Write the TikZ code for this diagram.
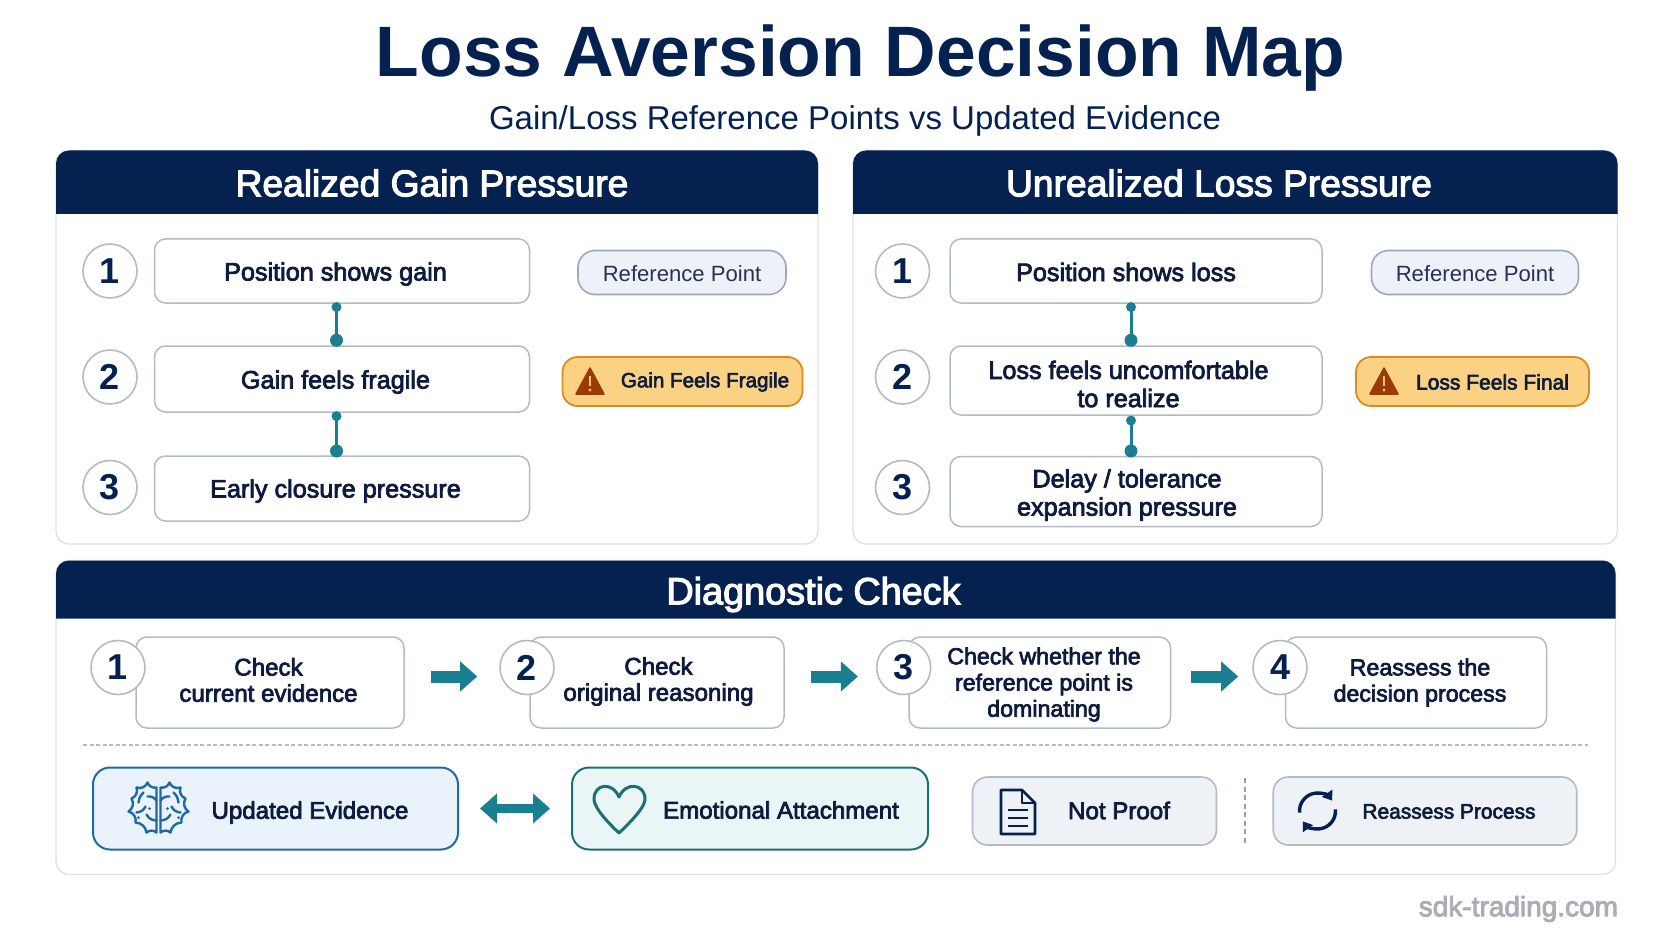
\documentclass[tikz,border=0pt]{standalone}
\usepackage{fontspec}
\usetikzlibrary{arrows.meta,calc}
\setmainfont{Liberation Sans}
\newfontfamily\semi[FakeBold=3]{Liberation Sans}
\definecolor{navy}{HTML}{04214F}
\definecolor{ink}{HTML}{0D1B3E}
\definecolor{teal1}{HTML}{1A7F90}
\definecolor{bord}{HTML}{B4BAC6}
\definecolor{panelb}{HTML}{DDE1E8}
\definecolor{pillf}{HTML}{EEF1F7}
\definecolor{pillb}{HTML}{9CA8BE}
\definecolor{warnf}{HTML}{FBD283}
\definecolor{warnb}{HTML}{DB8B20}
\definecolor{warnt}{HTML}{9A3A06}
\definecolor{warny}{HTML}{F7C35F}
\definecolor{evf}{HTML}{EAF2FB}
\definecolor{evb}{HTML}{1F6AA0}
\definecolor{emf}{HTML}{E9F6F5}
\definecolor{emb}{HTML}{1C6F75}
\definecolor{npf}{HTML}{EEF1F6}
\definecolor{wm}{HTML}{A9ADB5}
\newcommand{\fs}[1]{\fontsize{#1}{#1}\selectfont}
\tikzset{
  panel/.style={draw=panelb,fill=white,line width=1.4pt,rounded corners=13pt},
  header/.style={fill=navy},
  headtext/.style={text=white,inner sep=0pt,font=\semi\fs{37.2}},
  stepbox/.style={draw=bord,fill=white,line width=1.5pt,rounded corners=11pt,inner sep=0pt,minimum width=#1},
  numc/.style={circle,draw=bord,fill=white,line width=1.6pt,minimum size=54pt,inner sep=0pt,text=navy,font=\bfseries\fs{36}},
  txt/.style={text=ink,inner sep=0pt,align=center,font=\semi\fs{25.2}},
  txtd/.style={text=ink,inner sep=0pt,align=center,font=\semi\fs{24.1}},
  txte/.style={text=ink,inner sep=0pt,align=center,font=\semi\fs{23.2}},
  reftxt/.style={text=ink!90!white,inner sep=0pt,font=\fs{22.1}},
  refpill/.style={draw=pillb,fill=pillf,line width=1.6pt,rounded corners=17pt,inner sep=0pt,minimum height=44pt},
  warnpill/.style={draw=warnb,fill=warnf,line width=1.8pt,rounded corners=15pt,inner sep=0pt,minimum height=49pt},
  warntri/.style={fill=warnt,draw=warnt,line width=1.5pt,line join=round},
  conn/.style={draw=teal1,line width=3pt},
  dots/.style={circle,fill=teal1,inner sep=0pt,minimum size=#1},
  blk/.style={draw=teal1,line width=12pt,-{Triangle[length=17pt,width=29pt]}},
  blk2/.style={draw=teal1,line width=9pt,{Triangle[length=17pt,width=29pt]}-{Triangle[length=17pt,width=29pt]}},
  evbox/.style={draw=evb,fill=evf,line width=2pt,rounded corners=17pt,inner sep=0pt,minimum height=82pt},
  embox/.style={draw=emb,fill=emf,line width=2pt,rounded corners=17pt,inner sep=0pt,minimum height=82pt},
  npbox/.style={draw=bord,fill=npf,line width=1.6pt,rounded corners=15pt,inner sep=0pt,minimum height=68pt},
  icon/.style={draw=navy,line width=2.6pt,line join=round},
  brain/.style={draw=evb,line width=2.4pt,line cap=round,line join=round},
}
\begin{document}
\begin{tikzpicture}[x=1pt,y=-1pt]
\useasboundingbox (0,0) rectangle (1672,941);
\fill[white] (0,0) rectangle (1672,941);
\node[text=navy,inner sep=0pt,font=\bfseries\fs{71.4}] (title) at (860.5,58.5) {Loss Aversion Decision Map};
\node[text=navy,inner sep=0pt,font=\fs{33}] (subtitle) at (855,121) {Gain/Loss Reference Points vs Updated Evidence};

% left panel
\draw[panel] (56,150.5) rectangle (818,544);
\fill[header] (56,214) [rounded corners=13pt] -- (56,150.5) -- (818,150.5) [sharp corners] -- (818,214) -- cycle;
\node[headtext] (hA) at (432,183) {Realized Gain Pressure};
\foreach \n/\y in {1/271,2/377,3/487.5}{
  \node[numc] (ca\n) at (110,\y) {\n};
}
\node[stepbox=375pt,minimum height=64pt] (a1) at (342,271) {};
\node[stepbox=375pt,minimum height=66pt] (a2) at (342,379) {};
\node[stepbox=375pt,minimum height=65pt] (a3) at (342,488.5) {};
\node[txt] (ta1) at (335.5,274) {Position shows gain};
\node[txt] (ta2) at (335.5,382) {Gain feels fragile};
\node[txt] (ta3) at (335.5,491) {Early closure pressure};
\coordinate (ax) at (336.5,0);
\draw[conn] (a1.south -| ax) -- node[dots=10pt,pos=0.08]{} node[dots=13pt,pos=0.88]{} (a2.north -| ax);
\draw[conn] (a2.south -| ax) -- node[dots=10pt,pos=0.08]{} node[dots=13pt,pos=0.9]{} (a3.north -| ax);
\node[refpill,minimum width=208pt] (ra) at (682,272.5) {};
\node[reftxt] (tra) at (682,274) {Reference Point};
\node[warnpill,minimum width=240pt] (wa) at (682.5,381.5) {};
\draw[warntri] (590,368) -- (604,394) -- (576,394) -- cycle;
\fill[warny] (588.7,376) rectangle (591.3,386);
\fill[warny] (590,390) circle (1.7);
\node[txt,font=\semi\fs{20.6}] (twa) at (705,382) {Gain Feels Fragile};

% right panel
\draw[panel] (853,150.5) rectangle (1617.5,544);
\fill[header] (853,214) [rounded corners=13pt] -- (853,150.5) -- (1617.5,150.5) [sharp corners] -- (1617.5,214) -- cycle;
\node[headtext] (hB) at (1219,183) {Unrealized Loss Pressure};
\foreach \n/\y in {1/271,2/377,3/487.5}{
  \node[numc] (cb\n) at (902.5,\y) {\n};
}
\node[stepbox=372pt,minimum height=64pt] (b1) at (1136,271) {};
\node[stepbox=372pt,minimum height=69pt] (b2) at (1136,380.5) {};
\node[stepbox=372pt,minimum height=70pt] (b3) at (1136,491.5) {};
\node[txt] (tb1) at (1126,272) {Position shows loss};
\node[txt] (tb2) at (1128.5,384) {Loss feels uncomfortable\\[3pt]to realize};
\node[txt] (tb3) at (1127,495) {Delay / tolerance\\[3pt]expansion pressure};
\coordinate (bx) at (1131,0);
\draw[conn] (b1.south -| bx) -- node[dots=10pt,pos=0.08]{} node[dots=13pt,pos=0.88]{} (b2.north -| bx);
\draw[conn] (b2.south -| bx) -- node[dots=10pt,pos=0.12]{} node[dots=13pt,pos=0.88]{} (b3.north -| bx);
\node[refpill,minimum width=207pt] (rb) at (1475,272.5) {};
\node[reftxt] (trb) at (1475,274) {Reference Point};
\node[warnpill,minimum width=233pt] (wb) at (1472.5,381.5) {};
\draw[warntri] (1384,368) -- (1398,394) -- (1370,394) -- cycle;
\fill[warny] (1382.7,376) rectangle (1385.3,386);
\fill[warny] (1384,390) circle (1.7);
\node[txt,font=\semi\fs{21}] (twb) at (1492.5,382) {Loss Feels Final};

% diagnostic panel
\draw[panel] (56,560.5) rectangle (1615.5,874.5);
\fill[header] (56,618.5) [rounded corners=13pt] -- (56,560.5) -- (1615.5,560.5) [sharp corners] -- (1615.5,618.5) -- cycle;
\node[headtext,font=\semi\fs{37.8}] (hC) at (813.5,594.5) {Diagnostic Check};

\node[stepbox=268pt,minimum height=91pt] (d1) at (270,682.5) {};
\node[stepbox=254pt,minimum height=91pt] (d2) at (657,682.5) {};
\node[stepbox=261.5pt,minimum height=91pt] (d3) at (1039.75,682.5) {};
\node[stepbox=261pt,minimum height=91pt] (d4) at (1416,682.5) {};
\node[numc] (e1) at (118,667.5) {1};
\node[numc] (e2) at (527,667.5) {2};
\node[numc] (e3) at (903.7,667.5) {3};
\node[numc] (e4) at (1280,667.5) {4};
\node[txtd] (td1) at (268.5,680) {Check\\[2pt]current evidence};
\node[txtd] (td2) at (658.5,681.5) {Check\\[2pt]original reasoning};
\node[txte] (td3) at (1044,684.5) {Check whether the\\[3pt]reference point is\\[3pt]dominating};
\node[txte] (td4) at (1420,682.5) {Reassess the\\[3pt]decision process};
\coordinate (ay) at (0,676.5);
\draw[blk] ($(d1.east |- ay)+(26,0)$) -- ($(e2.west |- ay)+(-22,0)$);
\draw[blk] ($(d2.east |- ay)+(26,0)$) -- ($(e3.west |- ay)+(-18,0)$);
\draw[blk] ($(d3.east |- ay)+(19.5,0)$) -- ($(e4.west |- ay)+(-14,0)$);
\coordinate (dl1) at (83,745);
\coordinate (dl2) at (1588,745);
\draw[draw=bord,line width=1.5pt,dash pattern=on 4pt off 2.5pt] (dl1) -- (dl2);

\node[evbox,minimum width=365pt] (ue) at (275.5,808.5) {};
\node[embox,minimum width=356pt] (ea) at (750,808.5) {};
\node[txtd] (tue) at (310,812.5) {Updated Evidence};
\node[txtd] (tea) at (781,810) {Emotional Attachment};
\draw[blk2] ([xshift=21pt]ue.east) -- ([xshift=-21pt]ea.west);

% brain icon
\begin{scope}[shift={(158.5,808.5)}]
  \foreach \s in {1,-1}{
  \begin{scope}[xscale=\s]
    \draw[brain] (2,-21) to[bend right=40] (11,-26) to[bend right=45] (22,-21) to[bend right=45] (27,-10) to[bend right=45] (30,3) to[bend right=45] (23,14) to[bend right=40] (12,24) to[bend right=40] (2,24) -- cycle;
    \draw[brain] (2,-8) to[bend left=30] (11,-12) (2,12) to[bend right=30] (12,6) (15,-16) to[bend left=20] (20,-6) (13,-2) to[bend right=30] (22,4);
    \fill[evb] (9,0) circle (1.5) (20,9) circle (1.5);
  \end{scope}}
\end{scope}
% heart icon
\draw[draw=emb,line width=3pt,line join=round] (619,833) .. controls (600,815) and (594,805) .. (594,799) .. controls (594,784) and (612,781) .. (619,797) .. controls (626,781) and (645,784) .. (645,799) .. controls (645,805) and (638,815) .. (619,833) -- cycle;

\node[npbox,minimum width=244pt] (np) at (1094.5,811) {};
\node[npbox,minimum width=303.5pt] (rp) at (1425,811) {};
\node[txtd] (tnp) at (1119,810.5) {Not Proof};
\node[txt,font=\semi\fs{20.9}] (trp) at (1449,811.5) {Reassess Process};
\coordinate (vd1) at (1245,778);
\coordinate (vd2) at (1245,845);
\draw[draw=bord!85!black,line width=1.3pt,dash pattern=on 5pt off 3.5pt] (vd1) -- (vd2);
% doc icon
\draw[icon,fill=npf] (1001,790) -- (1022,790) -- (1035,803) -- (1035,834) -- (1001,834) -- cycle;
\draw[icon] (1022,790) -- (1022,803) -- (1035,803);
\draw[icon] (1008,810) -- (1028,810) (1008,818) -- (1028,818) (1008,826) -- (1028,826);
% refresh icon
\coordinate (rc) at (1317.5,811);
\draw[draw=navy,line width=3.4pt,-{Triangle[length=9pt,width=12pt]}] ($(rc)+(175:18)$) arc (175:325:18);
\draw[draw=navy,line width=3.4pt,-{Triangle[length=9pt,width=12pt]}] ($(rc)+(355:18)$) arc (-5:145:18);

\node[text=wm,inner sep=0pt,font=\semi\fs{28}] (wmk) at (1518.4,909) {sdk-trading.com};
\end{tikzpicture}
\end{document}
